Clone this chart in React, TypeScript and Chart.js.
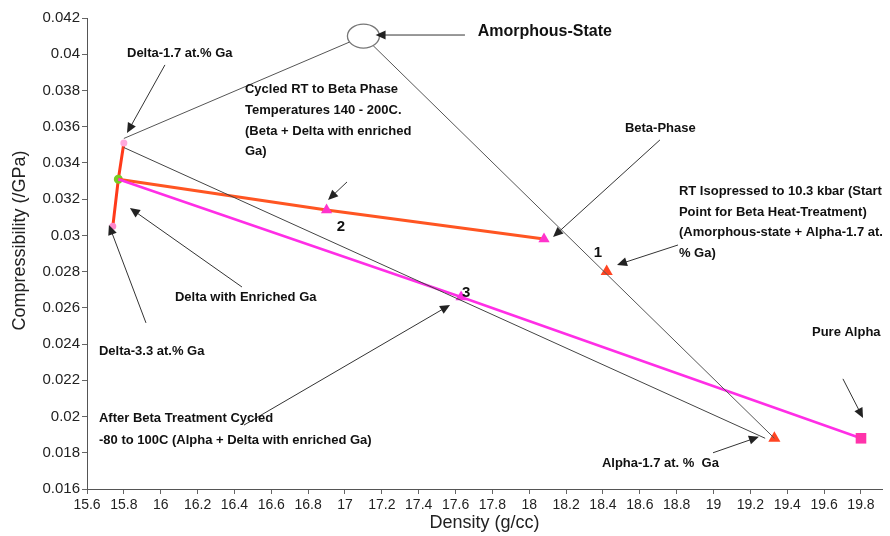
import React, { useEffect, useRef } from "react";
import { Chart, registerables } from "chart.js";

Chart.register(...registerables);

// ---- axis ticks ----
const xTickValues = [15.6, 15.8, 16, 16.2, 16.4, 16.6, 16.8, 17, 17.2, 17.4, 17.6, 17.8, 18, 18.2, 18.4, 18.6, 18.8, 19, 19.2, 19.4, 19.6, 19.8];
const yTickValues = [0.016, 0.018, 0.02, 0.022, 0.024, 0.026, 0.028, 0.03, 0.032, 0.034, 0.036, 0.038, 0.04, 0.042];

// ---- series (density g/cc, compressibility /GPa) ----
const deltaDensity = [15.74, 15.77, 15.8];
const deltaComp = [0.0305, 0.0331, 0.0351];

const betaDensity = [15.77, 16.9, 18.08];
const betaComp = [0.0331, 0.0314, 0.0298];

const alphaPathDensity = [15.77, 17.63, 19.8];
const alphaPathComp = [0.0331, 0.0266, 0.0188];

const amorphDensity = [15.8, 17.1, 19.33];
const amorphComp = [0.03535, 0.041, 0.0188];

const directDensity = [15.8, 19.28];
const directComp = [0.03485, 0.0188];

const point1Density = [18.42];
const point1Comp = [0.028];

const alpha17Density = [19.33];
const alpha17Comp = [0.0188];

const amorphousStateDensity = 17.1;
const amorphousStateComp = 0.041;

// ---- titles / annotation texts ----
const xTitle = "Density (g/cc)";
const yTitle = "Compressibility (/GPa)";
const labelDelta17 = ["Delta-1.7 at.% Ga"];
const labelAmorphous = ["Amorphous-State"];
const labelCycled = ["Cycled RT to Beta Phase", "Temperatures 140 - 200C.", "(Beta + Delta with enriched", "Ga)"];
const labelBeta = ["Beta-Phase"];
const labelRT = ["RT Isopressed to 10.3 kbar (Start", "Point for Beta Heat-Treatment)", "(Amorphous-state + Alpha-1.7 at.", "% Ga)"];
const labelDeltaEnriched = ["Delta with Enriched Ga"];
const labelDelta33 = ["Delta-3.3 at.% Ga"];
const labelAfterBeta = ["After Beta Treatment Cycled", "-80 to 100C (Alpha + Delta with enriched Ga)"];
const labelAlpha17 = ["Alpha-1.7 at. %  Ga"];
const labelPureAlpha = ["Pure Alpha"];

const toPts = (xs: number[], ys: number[]) => xs.map((x, i) => ({ x, y: ys[i] }));

// annotation placement (in data units)
const textNotes = [
  { lines: labelDelta17, x: 15.817, y: 0.04007, size: 13, lh: 20 },
  { lines: labelAmorphous, x: 17.72, y: 0.04123, size: 16, lh: 20 },
  { lines: labelCycled, x: 16.457, y: 0.03803, size: 13, lh: 20.6 },
  { lines: labelBeta, x: 18.519, y: 0.03593, size: 13, lh: 20 },
  { lines: labelRT, x: 18.812, y: 0.0324, size: 13, lh: 20.4 },
  { lines: labelDeltaEnriched, x: 16.077, y: 0.02655, size: 13, lh: 20 },
  { lines: labelDelta33, x: 15.665, y: 0.02362, size: 13, lh: 20 },
  { lines: labelAfterBeta, x: 15.665, y: 0.01987, size: 13, lh: 22 },
  { lines: labelAlpha17, x: 18.394, y: 0.01739, size: 13, lh: 20 },
  { lines: labelPureAlpha, x: 19.534, y: 0.02462, size: 13, lh: 20 },
];
const numberNotes = [
  { text: "1", x: 18.373, y: 0.02903 },
  { text: "2", x: 16.978, y: 0.03047 },
  { text: "3", x: 17.657, y: 0.02682 },
];
const arrowNotes = [
  { x1: 16.023, y1: 0.03941, x2: 15.817, y2: 0.03565 },
  { x1: 17.651, y1: 0.04106, x2: 17.166, y2: 0.04106 },
  { x1: 17.011, y1: 0.03295, x2: 16.908, y2: 0.03196 },
  { x1: 18.709, y1: 0.03527, x2: 18.129, y2: 0.02991 },
  { x1: 18.807, y1: 0.02947, x2: 18.476, y2: 0.02837 },
  { x1: 16.441, y1: 0.02715, x2: 15.833, y2: 0.03151 },
  { x1: 15.92, y1: 0.02517, x2: 15.719, y2: 0.03058 },
  { x1: 16.452, y1: 0.01953, x2: 17.57, y2: 0.02616 },
  { x1: 18.997, y1: 0.018, x2: 19.246, y2: 0.01888 },
  { x1: 19.702, y1: 0.02208, x2: 19.811, y2: 0.01992 },
];

const FONT = '"Liberation Sans", Arial, sans-serif';

const annotationPlugin = {
  id: "annotations",
  afterDatasetsDraw(chart: any) {
    const { ctx, scales } = chart;
    const xs = scales.x;
    const ys = scales.y;
    const px = (v: number) => xs.getPixelForValue(v);
    const py = (v: number) => ys.getPixelForValue(v);
    ctx.save();
    // amorphous state ellipse
    ctx.beginPath();
    ctx.ellipse(px(amorphousStateDensity), py(amorphousStateComp), 16, 12, 0, 0, Math.PI * 2);
    ctx.fillStyle = "#ffffff";
    ctx.fill();
    ctx.strokeStyle = "#777";
    ctx.lineWidth = 1.3;
    ctx.stroke();

    // arrows
    ctx.strokeStyle = "#333";
    ctx.fillStyle = "#222";
    ctx.lineWidth = 1;
    arrowNotes.forEach((a) => {
      const x1 = px(a.x1), y1 = py(a.y1), x2 = px(a.x2), y2 = py(a.y2);
      const ang = Math.atan2(y2 - y1, x2 - x1);
      const L = 10, W = 4.5;
      ctx.beginPath();
      ctx.moveTo(x1, y1);
      ctx.lineTo(x2 - (L - 2) * Math.cos(ang), y2 - (L - 2) * Math.sin(ang));
      ctx.stroke();
      ctx.beginPath();
      ctx.moveTo(x2, y2);
      ctx.lineTo(x2 - L * Math.cos(ang) + W * Math.sin(ang), y2 - L * Math.sin(ang) - W * Math.cos(ang));
      ctx.lineTo(x2 - L * Math.cos(ang) - W * Math.sin(ang), y2 - L * Math.sin(ang) + W * Math.cos(ang));
      ctx.closePath();
      ctx.fill();
    });

    // texts
    ctx.fillStyle = "#111";
    ctx.textAlign = "left";
    ctx.textBaseline = "middle";
    textNotes.forEach((t) => {
      ctx.font = `bold ${t.size}px ${FONT}`;
      t.lines.forEach((line, i) => {
        ctx.fillText(line, px(t.x), py(t.y) + i * t.lh);
      });
    });
    ctx.textAlign = "center";
    ctx.font = `bold 15px ${FONT}`;
    numberNotes.forEach((n) => {
      ctx.fillText(n.text, px(n.x), py(n.y));
    });

    // y axis title (slightly above centre, as in the source)
    ctx.save();
    ctx.translate(20, (chart.chartArea.top + chart.chartArea.bottom) / 2 - 13);
    ctx.rotate(-Math.PI / 2);
    ctx.font = `18px ${FONT}`;
    ctx.fillStyle = "#222";
    ctx.textAlign = "center";
    ctx.textBaseline = "middle";
    ctx.fillText(yTitle, 0, 0);
    ctx.restore();
    ctx.restore();
  },
};

const fmt = (v: number, d: number) => String(Number(v.toFixed(d)));

export default function App() {
  const ref = useRef<HTMLCanvasElement | null>(null);
  useEffect(() => {
    if (!ref.current) return;
    const chart = new Chart(ref.current, {
      type: "scatter",
      data: {
        datasets: [
          {
            data: toPts(directDensity, directComp),
            showLine: true,
            borderColor: "#444",
            borderWidth: 1,
            pointRadius: 0,
          },
          {
            data: toPts(amorphDensity, amorphComp),
            showLine: true,
            borderColor: "#555",
            borderWidth: 1,
            pointRadius: 0,
          },
          {
            data: toPts(alphaPathDensity, alphaPathComp),
            showLine: true,
            borderColor: "#ff2ee6",
            borderWidth: 2.5,
            pointStyle: ["circle", "triangle", "rect"],
            pointRadius: [0, 6.5, 7.5],
            pointBorderWidth: 0,
            pointBackgroundColor: ["#ff2ee6", "#ff2ee6", "#ff33aa"],
            pointBorderColor: ["#ff2ee6", "#ff2ee6", "#ff33aa"],
          },
          {
            data: toPts(betaDensity, betaComp),
            showLine: true,
            borderColor: "#ff5522",
            borderWidth: 3,
            pointStyle: "triangle",
            pointRadius: [0, 6.5, 6.5],
            pointBorderWidth: 0,
            pointBackgroundColor: "#ff33cc",
            pointBorderColor: "#ff33cc",
          },
          {
            data: toPts(deltaDensity, deltaComp),
            showLine: true,
            borderColor: "#ff3a1a",
            borderWidth: 3,
            pointRadius: [2, 3, 2],
            pointBackgroundColor: ["#ff88cc", "#77cc22", "#ffaadd"],
            pointBorderColor: ["#ff88cc", "#77cc22", "#ffaadd"],
          },
          {
            data: toPts(point1Density, point1Comp),
            pointStyle: "triangle",
            pointRadius: 7,
            pointBorderWidth: 0,
            pointBackgroundColor: "#ff4422",
            pointBorderColor: "#ff4422",
          },
          {
            data: toPts(alpha17Density, alpha17Comp),
            pointStyle: "triangle",
            pointRadius: 7,
            pointBorderWidth: 0,
            pointBackgroundColor: "#ff4422",
            pointBorderColor: "#ff4422",
          },
        ],
      },
      options: {
        animation: false,
        responsive: false,
        devicePixelRatio: 1,
        layout: { padding: { top: 18, right: 8, left: 0, bottom: 0 } },
        plugins: { legend: { display: false }, tooltip: { enabled: false } },
        scales: {
          x: {
            type: "linear",
            min: 15.6,
            max: 19.914,
            afterBuildTicks: (s: any) => {
              s.ticks = xTickValues.map((v) => ({ value: v }));
            },
            afterFit: (s: any) => {
              s.height = 47;
            },
            ticks: {
              autoSkip: false,
              maxRotation: 0,
              padding: 3,
              color: "#222",
              font: { family: FONT, size: 14 },
              callback: (v: any) => fmt(Number(v), 1),
            },
            grid: { display: true, drawOnChartArea: false, drawTicks: true, tickLength: 5, color: "#666" },
            border: { display: true, color: "#555", width: 1 },
            title: {
              display: true,
              text: xTitle,
              color: "#222",
              font: { family: FONT, size: 18 },
              padding: { top: 0, bottom: 2 },
            },
          },
          y: {
            type: "linear",
            min: 0.016,
            max: 0.042,
            afterBuildTicks: (s: any) => {
              s.ticks = yTickValues.map((v) => ({ value: v }));
            },
            afterFit: (s: any) => {
              s.width = 87;
            },
            ticks: {
              autoSkip: false,
              padding: 2,
              color: "#222",
              font: { family: FONT, size: 15 },
              callback: (v: any) => fmt(Number(v), 3),
            },
            grid: { display: true, drawOnChartArea: false, drawTicks: true, tickLength: 5, color: "#666" },
            border: { display: true, color: "#555", width: 1 },
            title: { display: false },
          },
        },
      },
      plugins: [annotationPlugin],
    } as any);
    return () => chart.destroy();
  }, []);
  return (
    <div style={{ position: "absolute", left: 0, top: 0, width: 890, height: 536, background: "#fff" }}>
      <canvas ref={ref} width={890} height={536} />
    </div>
  );
}
